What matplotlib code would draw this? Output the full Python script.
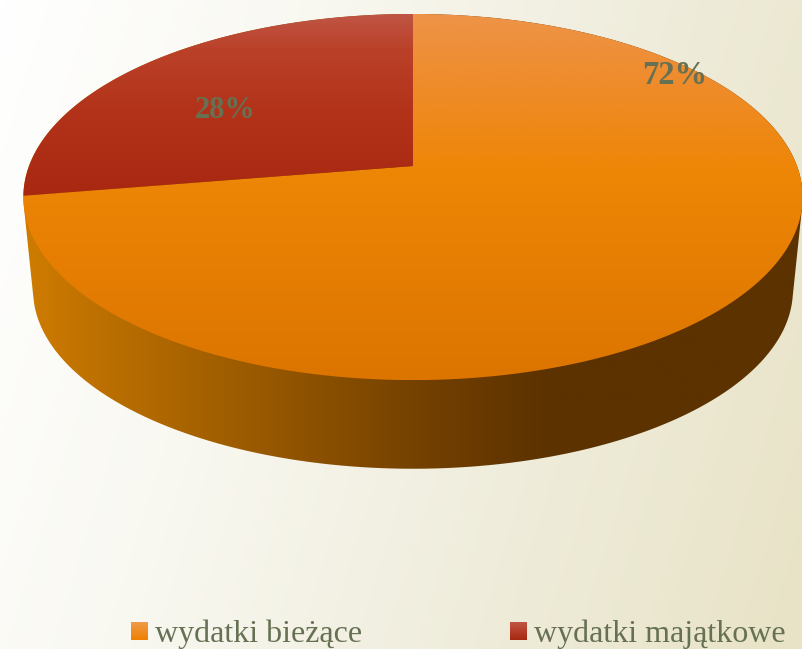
import numpy as np
import matplotlib
matplotlib.use("Agg")
import matplotlib.pyplot as plt
from matplotlib.colors import LinearSegmentedColormap, to_rgb
from matplotlib.patches import Polygon

categories = ["wydatki bieżące", "wydatki majątkowe"]
values = [72.4, 27.6]
labels = ["72%", "28%"]

W, H = 803, 649
TEXT = "#667153"
plt.rcParams["font.family"] = ["Liberation Serif", "DejaVu Serif"]

fig = plt.figure(figsize=(W / 100, H / 100), dpi=100)
ax = fig.add_axes([0, 0, 1, 1])
ax.set_axis_off()

CX, CY = 413, 166        # apex of the pie on the top face
K = 0.1695               # perspective strength
A, B = 177.8, 384.0      # vertical and horizontal scale, top face
SCALE_BOTTOM = 0.975
BOTTOM_CY = 260


def project(theta, scale=1.0, cy=CY):
    """theta: clockwise from 12 o'clock, radians."""
    x, y = np.sin(theta), np.cos(theta)
    d = 1 + K * y
    return np.column_stack([CX + scale * B * x / d, cy - scale * A * y / d])


def hull(pts):
    pts = sorted(map(tuple, pts))
    def half(seq):
        out = []
        for p in seq:
            while len(out) > 1 and ((out[-1][0] - out[-2][0]) * (p[1] - out[-2][1])
                                    - (out[-1][1] - out[-2][1]) * (p[0] - out[-2][0])) <= 0:
                out.pop()
            out.append(p)
        return out
    return np.array(half(pts)[:-1] + half(pts[::-1])[:-1])


def cmap(stops, lo, hi):
    return LinearSegmentedColormap.from_list(
        "g", [((p - lo) / (hi - lo), to_rgb(c)) for p, c in stops], N=512)


def fill(poly, stops, lo, hi, vertical=True):
    """Gradient fill of a polygon; stops are positions in pixels."""
    grad = np.linspace(0, 1, 512)
    img = grad[:, None] if vertical else grad[None, :]
    xs, ys = poly[:, 0], poly[:, 1]
    if vertical:
        extent = (xs.min(), xs.max(), hi, lo)
    else:
        extent = (lo, hi, ys.max(), ys.min())
    im = ax.imshow(img, cmap=cmap(stops, lo, hi), vmin=0, vmax=1, extent=extent,
                   aspect="auto", origin="upper", interpolation="bilinear", zorder=2)
    patch = Polygon(poly, closed=True, transform=ax.transData, fc="none", ec="none")
    ax.add_patch(patch)
    im.set_clip_path(patch)


# background: diagonal gradient
yy, xx = np.mgrid[0:1:200j, 0:1:200j]
bg = LinearSegmentedColormap.from_list(
    "bg", [(0, "#ffffff"), (0.35, "#f8f7ef"), (0.7, "#eeebd9"), (1, "#e8e3c6")])
ax.imshow(0.8 * xx + 0.2 * yy, cmap=bg, vmin=0, vmax=1, extent=(0, W, H, 0),
          aspect="auto", origin="upper", zorder=0)

# wall
ring = np.linspace(0, 2 * np.pi, 721)
top = project(ring)
bottom = project(ring, SCALE_BOTTOM, BOTTOM_CY)
wall = hull(np.vstack([top, bottom]))
fill(wall, [(23, "#cf7c00"), (120, "#b86d00"), (300, "#8f5300"),
            (440, "#703e00"), (550, "#5c3200"), (803, "#5c3200")], 23, 803, vertical=False)

# top face: red slice runs counter-clockwise from 12 o'clock
frac = values[1] / sum(values)
th_red = np.linspace(-2 * np.pi * frac, 0, 200)
th_org = np.linspace(0, 2 * np.pi * (1 - frac), 600)
red = np.vstack([[CX, CY], project(th_red)])
org = np.vstack([[CX, CY], project(th_org)])
fill(org, [(14, "#ee9448"), (80, "#ee8c2c"), (170, "#ee8606"), (380, "#dc7500")], 14, 380)
fill(red, [(14, "#c05545"), (50, "#ba4128"), (110, "#b2331a"), (205, "#a72610")], 14, 205)

# value labels
ax.text(675, 75, labels[0], color=TEXT, fontsize=23.5, fontweight="bold",
        ha="center", va="center", zorder=4)
ax.text(225, 111, labels[1], color=TEXT, fontsize=22, fontweight="bold",
        ha="center", va="center", zorder=4)

# legend
for x0, tx, name, stops in [
    (131, 155, categories[0], [(622, "#f09a4c"), (640, "#ee8000")]),
    (510, 534, categories[1], [(622, "#c05545"), (640, "#a82810")]),
]:
    sq = np.array([[x0, 622], [x0 + 17, 622], [x0 + 17, 640], [x0, 640]], float)
    fill(sq, stops, 622, 640)
    ax.text(tx, 642, name, color=TEXT, fontsize=23, ha="left", va="baseline", zorder=4)

ax.set_xlim(0, W)
ax.set_ylim(H, 0)
fig.savefig("out.png", dpi=100)
